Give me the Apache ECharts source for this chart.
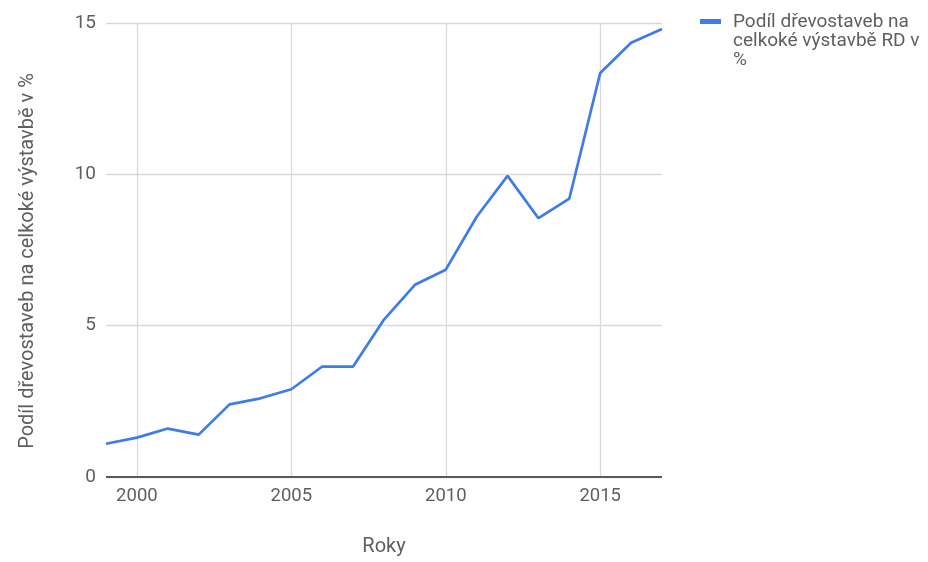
<!DOCTYPE html>
<html>
<head>
<meta charset="utf-8">
<script src="https://cdn.jsdelivr.net/npm/echarts@6/dist/echarts.min.js"></script>
<style>
  html, body { margin: 0; padding: 0; background: #fff; }
  #chart { width: 928px; height: 562px; }
</style>
</head>
<body>
<div id="chart"></div>
<script>
// Years on the horizontal axis
var years = ['1999','2000','2001','2002','2003','2004','2005','2006','2007','2008',
             '2009','2010','2011','2012','2013','2014','2015','2016','2017'];
// Share of timber-frame houses in all family-house construction, %
var shareValues = [1.1, 1.3, 1.6, 1.4, 2.4, 2.6, 2.9, 3.65, 3.65, 5.2,
                   6.35, 6.85, 8.6, 9.95, 8.55, 9.2, 13.35, 14.35, 14.8];
var seriesName = 'Podíl dřevostaveb na celkoké výstavbě RD v %';
var legendLines = ['Podíl dřevostaveb na', 'celkoké výstavbě RD v', '%'];
var yTitle = 'Podíl dřevostaveb na celkoké výstavbě v %';
var xTitle = 'Roky';

var lineColor = '#3f7ce8';
var textColor = '#5f5f5f';
var font = 'Roboto, "Noto Sans", sans-serif';

function everyFifth(idx, val) { return Number(val) % 5 === 0; }

var chart = echarts.init(document.getElementById('chart'), null, { renderer: 'canvas' });
chart.setOption({
  animation: false,
  grid: { left: 106, right: 266, top: 23, bottom: 79 },
  xAxis: {
    type: 'category',
    data: years,
    boundaryGap: false,
    name: xTitle,
    nameLocation: 'middle',
    nameGap: 60,
    nameTextStyle: { color: textColor, fontSize: 20, fontFamily: font },
    axisLine: { show: false },
    axisTick: { show: false },
    axisLabel: { interval: everyFifth, color: textColor, fontSize: 18.5, fontFamily: font, margin: 10 },
    splitLine: { show: true, interval: everyFifth, lineStyle: { color: '#d9d9d9', width: 1.3 } }
  },
  yAxis: {
    type: 'value',
    min: 0, max: 15, interval: 5,
    name: yTitle,
    nameLocation: 'middle',
    nameGap: 68,
    // extra trailing padding pulls the rotated title a little lower
    nameTextStyle: { color: textColor, fontSize: 20, fontFamily: font, padding: [0, 22, 0, 0] },
    axisLine: { show: false },
    axisTick: { show: false },
    axisLabel: { color: textColor, fontSize: 19, fontFamily: font, margin: 10 },
    splitLine: { show: true, lineStyle: { color: '#d9d9d9', width: 1.3 } }
  },
  series: [{
    name: seriesName,
    type: 'line',
    data: shareValues,
    symbol: 'none',
    lineStyle: { color: lineColor, width: 2.7 },
    itemStyle: { color: lineColor },
    markLine: {
      silent: true,
      symbol: 'none',
      label: { show: false },
      lineStyle: { color: '#5a5a5a', width: 2, type: 'solid' },
      data: [{ yAxis: 0 }]
    }
  }],
  graphic: [
    { type: 'rect', left: 700, top: 19, shape: { width: 21, height: 5 }, style: { fill: lineColor } },
    { type: 'text', left: 733, top: 13,
      style: { text: legendLines.join('\n'), fill: textColor, font: '19px ' + font, lineHeight: 19 } }
  ]
});
</script>
</body>
</html>
